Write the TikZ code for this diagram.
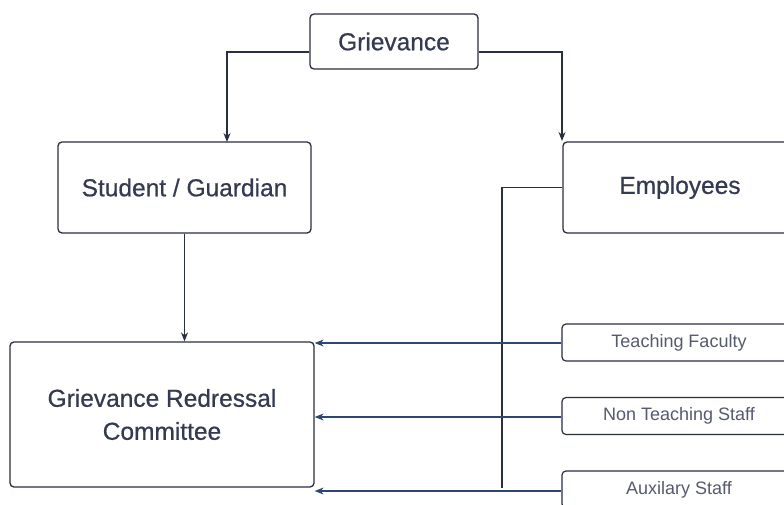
\documentclass[tikz,border=0pt]{standalone}
\usepackage{fontspec}
\setmainfont{Liberation Sans}
\newfontfamily\boxfont[FakeBold=0.6]{Liberation Sans}
\usetikzlibrary{arrows.meta,calc}
\definecolor{txt}{HTML}{343A50}
\definecolor{stxt}{HTML}{555B6E}
\definecolor{bord}{HTML}{2A2F40}
\definecolor{blu}{HTML}{2C4870}
\begin{document}
\begin{tikzpicture}[x=1pt,y=-1pt,
  box/.style={draw=bord,line width=1.3pt,rounded corners=4pt,text=txt,align=center,inner sep=0pt,font=\boxfont\fontsize{24.5}{33}\selectfont},
  sbox/.style={draw=bord,line width=1.2pt,rounded corners=4pt,text=stxt,align=center,inner sep=0pt,font=\fontsize{18}{22}\selectfont},
  conn/.style={draw=bord,line width=1.2pt,-{Stealth[length=9pt,width=7pt]}},
  bconn/.style={draw=blu,line width=1.1pt,-{Stealth[length=9pt,width=7pt]}},
  plain/.style={draw=bord,line width=1.1pt}]
\useasboundingbox (0,0) rectangle (784,504);
\clip (0,0) rectangle (784,504);
\fill[white] (0,0) rectangle (784,504);
% nodes
\node[box,minimum width=168pt,minimum height=55pt] (g) at (394,41.5) {Grievance};
\node[box,minimum width=253pt,minimum height=91pt] (sg) at (184.5,187.5) {Student / Guardian};
\node[box,minimum width=234pt,minimum height=91pt] (emp) at (680,187.5) {Employees};
\node[box,minimum width=304pt,minimum height=145pt] (grc) at (162,414.5) {Grievance Redressal\\Committee};
\node[sbox,minimum width=234pt,minimum height=37pt] (tf) at (679,342.5) {Teaching Faculty};
\node[sbox,minimum width=234pt,minimum height=37pt] (nts) at (679,416) {Non Teaching Staff};
\node[sbox,minimum width=234pt,minimum height=37pt] (aux) at (679,489.5) {Auxilary Staff};
% coordinates
\coordinate (gl) at ([yshift=-10.5pt]g.west);
\coordinate (gr) at ([yshift=-10.5pt]g.east);
\coordinate (sgt) at (227,142);
\coordinate (empt) at (562,141);
\coordinate (j) at (502,488);
% connectors
\draw[conn] (gl) -| (sgt);
\draw[conn] (gr) -| (empt);
\draw[conn] (sg.south) -- (sg.south |- grc.north);
\draw[plain] (emp.west) -| (j);
\draw[bconn] ([yshift=-0.5pt]tf.west) -- ([yshift=-0.5pt]tf.west -| grc.east);
\draw[bconn] ([yshift=-1pt]nts.west) -- ([yshift=-1pt]nts.west -| grc.east);
\draw[bconn] ([yshift=-1.5pt]aux.west) -- ([yshift=-1.5pt]aux.west -| grc.east);
\end{tikzpicture}
\end{document}
